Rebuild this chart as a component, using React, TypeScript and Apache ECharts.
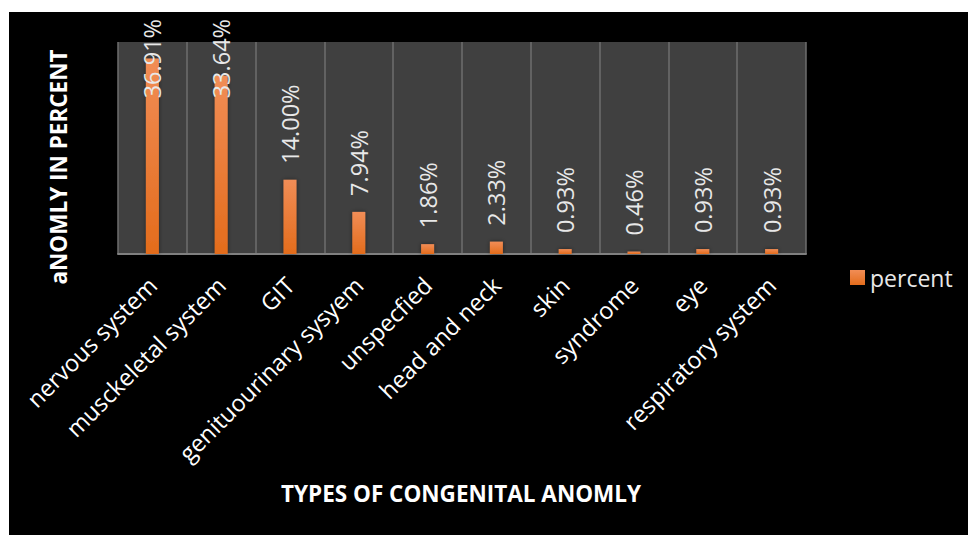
import React, { useEffect, useRef } from "react";
import * as echarts from "echarts";

const categories = [
  "nervous system",
  "musckeletal system",
  "GIT",
  "genituourinary sysyem",
  "unspecfied",
  "head and neck",
  "skin",
  "syndrome",
  "eye",
  "respiratory system",
];
const percentValues = [36.91, 33.64, 14.0, 7.94, 1.86, 2.33, 0.93, 0.46, 0.93, 0.93];
const seriesName = "percent";
const xTitle = "TYPES OF CONGENITAL ANOMLY";
const yTitle = "aNOMLY IN PERCENT";

const FONT = "'Open Sans', 'Noto Sans', sans-serif";

export default function App() {
  const ref = useRef<HTMLDivElement>(null);
  useEffect(() => {
    if (!ref.current) return;
    const chart = echarts.init(ref.current, null, { renderer: "svg" });
    const barColor = new echarts.graphic.LinearGradient(0, 0, 0, 1, [
      { offset: 0, color: "#f18d56" },
      { offset: 1, color: "#e36c1c" },
    ]);
    chart.setOption({
      animation: false,
      backgroundColor: "#000000",
      textStyle: { fontFamily: FONT },
      grid: {
        left: 109,
        top: 30,
        right: 162,
        bottom: 281,
        show: true,
        backgroundColor: "#404040",
        borderWidth: 0,
      },
      legend: {
        show: true,
        left: 836,
        top: 249,
        icon: "rect",
        itemWidth: 15,
        itemHeight: 15,
        itemGap: 6,
        textStyle: { color: "#e8e8e8", fontSize: 23, fontFamily: FONT },
        data: [seriesName],
      },
      xAxis: {
        type: "category",
        data: categories,
        axisLine: { show: true, lineStyle: { color: "#808080", width: 2 } },
        axisTick: { show: false },
        splitLine: { show: true, lineStyle: { color: "#6e6e6e", width: 1.5 } },
        axisLabel: {
          rotate: 45,
          color: "#ffffff",
          fontSize: 23.5,
          fontFamily: FONT,
          margin: 27,
          interval: 0,
        },
      },
      yAxis: {
        type: "value",
        min: 0,
        max: 40,
        axisLine: { show: false },
        axisTick: { show: false },
        axisLabel: { show: false },
        splitLine: { show: false },
      },
      graphic: [
        {
          type: "text",
          x: 49,
          y: 155,
          rotation: Math.PI / 2,
          style: {
            text: yTitle,
            fill: "#ffffff",
            font: `bold 22.5px ${FONT}`,
            align: "center",
            verticalAlign: "middle",
          },
        },
        {
          type: "text",
          x: 452,
          y: 481,
          style: {
            text: xTitle,
            fill: "#ffffff",
            font: `bold 22.5px ${FONT}`,
            align: "center",
            verticalAlign: "middle",
          },
        },
      ],
      series: [
        {
          name: seriesName,
          type: "bar",
          data: percentValues,
          barWidth: 13,
          itemStyle: {
            color: barColor,
            shadowColor: "rgba(0,0,0,0.45)",
            shadowBlur: 4,
          },
          label: {
            show: true,
            position: "top",
            rotate: 90,
            align: "left",
            verticalAlign: "middle",
            distance: 16,
            color: "#e8e8e8",
            fontSize: 23.5,
            fontFamily: FONT,
            formatter: (p: any) => `${Number(p.value).toFixed(2)}%`,
          },
          labelLayout: (params: any) => {
            const r = params.labelRect;
            const limit = 7;
            if (r && r.y < limit) {
              return { y: limit + r.height };
            }
            return {};
          },
        },
      ],
    });
    return () => chart.dispose();
  }, []);
  return (
    <div
      ref={ref}
      style={{ position: "fixed", left: 9, top: 12, width: 959, height: 523 }}
    />
  );
}
